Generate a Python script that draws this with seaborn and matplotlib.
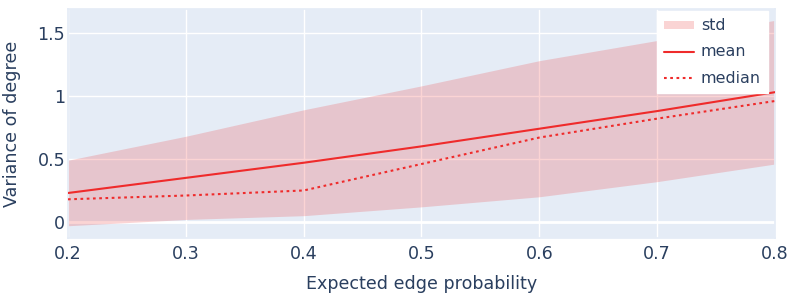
import numpy as np
import pandas as pd
import matplotlib.pyplot as plt
import seaborn as sns
from matplotlib.patches import Patch
from matplotlib.lines import Line2D

# Values
probs = [0.2, 0.3, 0.4, 0.5, 0.6, 0.7, 0.8]
mean_var = [0.23, 0.35, 0.47, 0.60, 0.74, 0.88, 1.03]
std_var = [0.26, 0.33, 0.42, 0.48, 0.54, 0.56, 0.57]
median_var = [0.18, 0.21, 0.25, 0.46, 0.67, 0.82, 0.96]

df = pd.DataFrame({"p": probs, "mean": mean_var, "std": std_var, "median": median_var})

sns.set_theme(style="darkgrid", rc={
    "axes.facecolor": "#E5ECF6",
    "grid.color": "white",
    "grid.linewidth": 1.0,
    "axes.edgecolor": "#E5ECF6",
})
plt.rcParams["font.family"] = ["DejaVu Sans"]
txt = "#2a3f5f"
red = "#EF2B2B"

fig = plt.figure(figsize=(7.97, 2.96), dpi=100)
ax = fig.add_axes([0.0853, 0.196, 0.8871, 0.7736])

# std band around the mean
lo = df["mean"] - df["std"]
hi = df["mean"] + df["std"]
ax.fill_between(df["p"], lo, hi, color=red, alpha=0.2, linewidth=0, zorder=2)
ax.axhline(0, color="white", linewidth=2, zorder=1)
sns.lineplot(data=df, x="p", y="mean", color=red, linewidth=1.5, ax=ax, zorder=3)
sns.lineplot(data=df, x="p", y="median", color=red, linewidth=1.5, ax=ax, zorder=3,
             linestyle=(0, (1.3, 1.7)))

ax.set_xlim(0.2, 0.8)
ax.set_ylim(-0.127, 1.69)
ax.set_xticks([0.2, 0.3, 0.4, 0.5, 0.6, 0.7, 0.8])
ax.set_xticklabels(["0.2", "0.3", "0.4", "0.5", "0.6", "0.7", "0.8"])
ax.set_yticks([0, 0.5, 1, 1.5])
ax.set_yticklabels(["0", "0.5", "1", "1.5"])
ax.tick_params(axis="both", colors=txt, labelsize=12.6, length=0)
ax.tick_params(axis="x", pad=5)
ax.tick_params(axis="y", pad=2)
ax.set_xlabel("Expected edge probability", color=txt, fontsize=12.6, labelpad=9)
ax.set_ylabel("Variance of degree", color=txt, fontsize=12.6, labelpad=12)

handles = [
    Patch(facecolor="#FAD4D4", edgecolor="none"),
    Line2D([0], [0], color=red, linewidth=1.5),
    Line2D([0], [0], color=red, linewidth=1.5, linestyle=(0, (1.3, 1.7))),
]
leg = ax.legend(handles, ["std", "mean", "median"], loc="upper right",
                bbox_to_anchor=(0.99, 0.99), frameon=True, fancybox=False,
                framealpha=1, facecolor="white", edgecolor="white",
                fontsize=11.4, labelcolor=txt, handlelength=1.9, handleheight=0.45,
                handletextpad=0.4, borderpad=0.45, labelspacing=0.7,
                borderaxespad=0)

plt.savefig("out.png", dpi=100)
